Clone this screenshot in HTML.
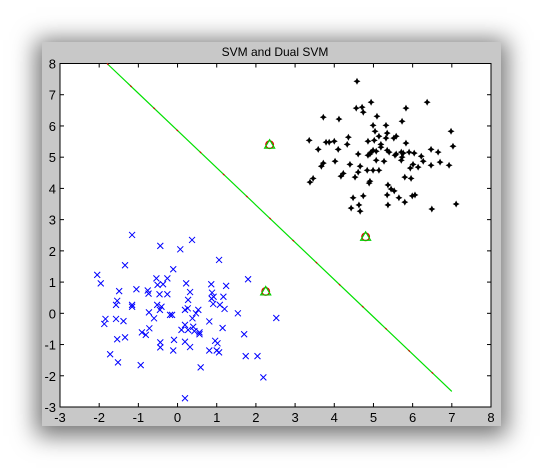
<!DOCTYPE html>
<html><head><meta charset="utf-8"><style>
body{margin:0;width:543px;height:468px;background:#fff;overflow:hidden;font-family:"Liberation Sans",sans-serif}
#fig{position:absolute;left:42px;top:42px;width:459px;height:384px;background:#c8c8c8;box-shadow:0 4px 22px 6px rgba(0,0,0,0.55)}
svg{position:absolute;left:0;top:0}
</style></head><body>
<div id="fig"></div>
<svg id="chart" width="543" height="468"></svg>
<script>
const xTicks=[-3,-2,-1,0,1,2,3,4,5,6,7,8];
const yTicks=[-3,-2,-1,0,1,2,3,4,5,6,7,8];
const class1X=[-1.16,-0.44,0.37,0.07,1.06,-1.34,-2.05,-1.96,-0.11,-0.54,-0.26,0.22,0.86,1.80,1.24,-1.05,-1.49,-0.76,-0.51,-0.37,-0.74,-0.46,-0.26,0.32,0.88,0.92,1.17,0.87,0.27,-1.54,-1.57,-1.16,-1.16,-0.52,-0.41,-0.45,0.91,1.08,1.20,0.53,0.19,0.26,-0.73,1.54,-1.84,-1.87,-1.57,-1.38,-0.60,-0.19,-0.14,0.38,0.47,2.52,0.19,-0.72,0.10,0.27,0.40,0.43,0.56,0.56,0.81,1.15,-0.91,-0.81,-1.54,-1.34,-0.09,0.19,0.96,1.02,1.70,-0.44,-0.44,-0.11,0.32,0.81,1.00,1.06,-1.72,1.74,2.04,-1.52,-0.94,0.59,2.19,0.19];
const class1Y=[2.51,2.16,2.35,2.05,1.71,1.54,1.23,0.96,1.41,1.12,1.12,0.96,0.93,1.09,0.88,0.77,0.71,0.73,0.91,0.93,0.63,0.61,0.61,0.68,0.66,0.53,0.53,0.47,0.43,0.40,0.27,0.27,0.21,0.27,0.21,0.11,0.30,0.27,0.14,0.11,0.11,0.16,0.03,0.0,-0.18,-0.34,-0.18,-0.25,-0.16,-0.05,-0.05,-0.16,0.0,-0.15,-0.37,-0.48,-0.53,-0.53,-0.43,-0.57,-0.61,-0.67,-0.26,-0.47,-0.61,-0.69,-0.83,-0.77,-0.85,-0.91,-0.88,-0.96,-0.67,-0.93,-1.09,-1.19,-1.08,-1.19,-1.19,-1.25,-1.31,-1.37,-1.37,-1.57,-1.66,-1.73,-2.05,-2.72];
const class2X=[4.58,6.37,4.94,4.56,4.71,4.74,5.83,3.72,4.12,5.09,5.73,4.99,5.32,5.04,5.35,6.98,3.36,4.36,3.79,3.87,4.00,5.14,5.32,5.52,5.58,4.86,5.02,5.83,7.03,4.33,5.19,5.19,3.59,4.10,4.99,5.07,4.94,4.86,4.91,5.35,5.40,5.71,5.76,5.91,6.04,6.47,6.65,4.61,5.58,5.55,6.22,5.73,5.71,5.07,5.27,4.02,6.27,6.70,3.72,3.67,4.40,4.66,6.01,5.94,6.14,6.47,6.93,4.84,4.99,5.14,4.61,4.23,4.17,4.53,5.80,5.96,3.46,3.38,4.91,4.89,5.37,5.45,5.53,5.35,4.48,4.74,5.65,5.99,6.06,5.80,4.63,5.37,7.11,4.43,6.49,4.66];
const class2Y=[7.43,6.76,6.76,6.57,6.60,6.44,6.57,6.28,6.22,6.31,6.15,6.02,6.02,5.83,5.77,5.83,5.54,5.64,5.48,5.48,5.51,5.67,5.61,5.61,5.67,5.51,5.54,5.45,5.35,5.41,5.41,5.32,5.25,5.25,5.22,5.19,5.16,5.06,5.10,5.22,5.16,5.16,5.13,5.16,5.13,5.25,5.16,5.10,5.10,5.06,5.03,5.00,4.90,4.90,4.87,4.87,4.87,4.84,4.81,4.71,4.77,4.71,4.77,4.65,4.68,4.74,4.74,4.58,4.58,4.58,4.52,4.48,4.39,4.36,4.36,4.32,4.32,4.20,4.23,4.17,4.11,3.98,3.92,3.79,3.70,3.76,3.70,3.76,3.79,3.56,3.47,3.47,3.50,3.37,3.34,3.27];
const svX=[2.35,4.8,2.25];
const svY=[5.4,2.45,0.7];
const boundaryX=[-1.8,7.0];
const boundaryY=[8.0,-2.5];

const L=60,R=491,T=63.5,B=407;
const sx=v=>L+(v+3)/11*(R-L);
const sy=v=>B-(v+3)/11*(B-T);
const svg=document.getElementById('chart');
const NS='http://www.w3.org/2000/svg';
function mk(tag,attrs,parent){const e=document.createElementNS(NS,tag);for(const k in attrs)e.setAttribute(k,attrs[k]);(parent||svg).appendChild(e);return e;}

const title=mk('text',{x:275,y:56,'text-anchor':'middle','font-size':12,fill:'#000'});
title.textContent='SVM and Dual SVM';



const plot=mk('rect',{x:L,y:T,width:R-L,height:B-T,fill:'#fff',stroke:'#000','stroke-width':1});



xTicks.forEach(t=>{const x=sx(t);
 mk('line',{x1:x,x2:x,y1:B,y2:B-4,stroke:'#000'});mk('line',{x1:x,x2:x,y1:T,y2:T+4,stroke:'#000'});
 const tx=mk('text',{x:x,y:B+15,'text-anchor':'middle','font-size':13,fill:'#000'});tx.textContent=t;
 
 
});
yTicks.forEach(t=>{const y=sy(t);
 mk('line',{x1:L,x2:L+4,y1:y,y2:y,stroke:'#000'});mk('line',{x1:R,x2:R-4,y1:y,y2:y,stroke:'#000'});
 const tx=mk('text',{x:L-4,y:y+5,'text-anchor':'end','font-size':13,fill:'#000'});tx.textContent=t;
 
 
});

const bl=mk('line',{x1:sx(boundaryX[0]),y1:sy(boundaryY[0]),x2:sx(boundaryX[1]),y2:sy(boundaryY[1]),stroke:'#00e000','stroke-width':1.2});


const bl2=mk('line',{x1:sx(boundaryX[0]),y1:sy(boundaryY[0]),x2:sx(boundaryX[1]),y2:sy(boundaryY[1]),stroke:'#e00000','stroke-width':1.2,'stroke-dasharray':'2 30'});



class1X.forEach((v,i)=>{const x=sx(v),y=sy(class1Y[i]);
 const p=mk('path',{d:`M${x-3},${y-3}L${x+3},${y+3}M${x-3},${y+3}L${x+3},${y-3}`,stroke:'#0000ff','stroke-width':1});
 
 
});
class2X.forEach((v,i)=>{const x=sx(v),y=sy(class2Y[i]);
 const p=mk('path',{d:`M${x},${y-3.5}L${x+1.2},${y-1.2}L${x+3.5},${y}L${x+1.2},${y+1.2}L${x},${y+3.5}L${x-1.2},${y+1.2}L${x-3.5},${y}L${x-1.2},${y-1.2}Z`,fill:'#000'});
 
 
});
svX.forEach((v,i)=>{const x=sx(v),y=sy(svY[i]);
 const c=mk('circle',{cx:x,cy:y,r:3.8,fill:'none',stroke:'#e00000','stroke-width':1.3});
 
 
 const t=mk('path',{d:`M${x},${y-5}L${x+5},${y+3.5}L${x-5},${y+3.5}Z`,fill:'none',stroke:'#00d000','stroke-width':1.2});
 
 
});
</script>
</body></html>
